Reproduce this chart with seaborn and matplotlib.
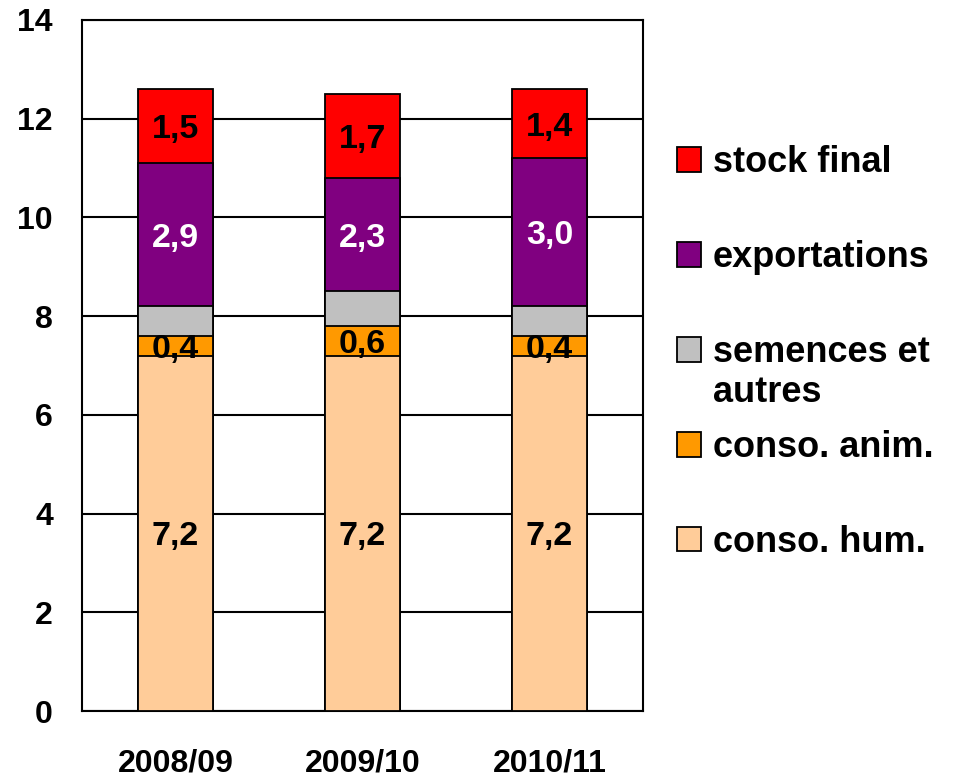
import numpy as np
import pandas as pd
import matplotlib
matplotlib.use("Agg")
import matplotlib.pyplot as plt
import seaborn as sns

campagnes = ["2008/09", "2009/10", "2010/11"]
conso_hum = [7.2, 7.2, 7.2]
conso_anim = [0.4, 0.6, 0.4]
semences = [0.6, 0.7, 0.6]
exportations = [2.9, 2.3, 3.0]
stock_final = [1.5, 1.7, 1.4]

series = ["conso. hum.", "conso. anim.", "semences et autres", "exportations", "stock final"]
couleurs = ["#FFCC99", "#FF9900", "#C0C0C0", "#800080", "#FF0000"]
label_colors = ["black", "black", None, "white", "black"]

sns.set_style("white")
plt.rcParams["font.family"] = ["Liberation Sans", "DejaVu Sans"]
plt.rcParams["font.weight"] = "bold"
plt.rcParams["text.color"] = "black"
plt.rcParams["xtick.color"] = "black"
plt.rcParams["ytick.color"] = "black"

df = pd.DataFrame({"campagne": campagnes,
                   series[0]: conso_hum, series[1]: conso_anim, series[2]: semences,
                   series[3]: exportations, series[4]: stock_final})
cum = df[series].cumsum(axis=1)

fig = plt.figure(figsize=(9.63, 7.78), dpi=100)
ax = fig.add_axes([0.0852, 0.0861, 0.5826, 0.8882])

# stacked bars: draw cumulative totals from the top layer down
handles = []
for name, col in zip(series[::-1], couleurs[::-1]):
    sns.barplot(x=df["campagne"], y=cum[name], color=col, width=0.4,
                edgecolor="black", linewidth=1.3, saturation=1, ax=ax, zorder=3)
    handles.append(plt.Rectangle((0, 0), 1, 1, facecolor=col, edgecolor="black", linewidth=1.3))

# value labels
for i, name in enumerate(series):
    if label_colors[i] is None:
        continue
    bottoms = cum[name] - df[name]
    for j in range(len(campagnes)):
        v = df[name][j]
        ax.text(j, bottoms[j] + v / 2, f"{v:.1f}".replace(".", ","),
                ha="center", va="center_baseline", fontsize=24.5, fontweight="bold",
                color=label_colors[i], zorder=5)

ax.set_xlim(-0.5, 2.5)
ax.set_ylim(0, 14)
ax.set_yticks(range(0, 15, 2))
ax.set_xlabel("")
ax.set_ylabel("")
ax.yaxis.grid(True, color="black", linewidth=1.5)
ax.set_axisbelow(True)
for sp in ax.spines.values():
    sp.set_visible(True)
    sp.set_color("black")
    sp.set_linewidth(1.5)
ax.tick_params(axis="y", length=0, pad=21, labelsize=23)
ax.tick_params(axis="x", length=0, pad=27, labelsize=23)
for t in ax.get_xticklabels() + ax.get_yticklabels():
    t.set_fontweight("bold")

labels = ["stock final", "exportations", "semences et", "conso. anim.", "conso. hum."]
leg = fig.legend(handles, labels, loc="upper left", bbox_to_anchor=(0.703, 0.8135),
                 frameon=False, borderpad=0, borderaxespad=0,
                 handlelength=0.67, handleheight=0.67, handletextpad=0.33,
                 labelspacing=1.66, prop={"weight": "bold", "size": 26})

fig.canvas.draw()
bb = leg.get_texts()[2].get_window_extent()
x0, y0 = fig.transFigure.inverted().transform((bb.x0, (bb.y0 + bb.y1) / 2 - 40))
fig.text(x0, y0, "autres", ha="left", va="center", fontsize=26, fontweight="bold")

fig.savefig("out.png", dpi=100)
